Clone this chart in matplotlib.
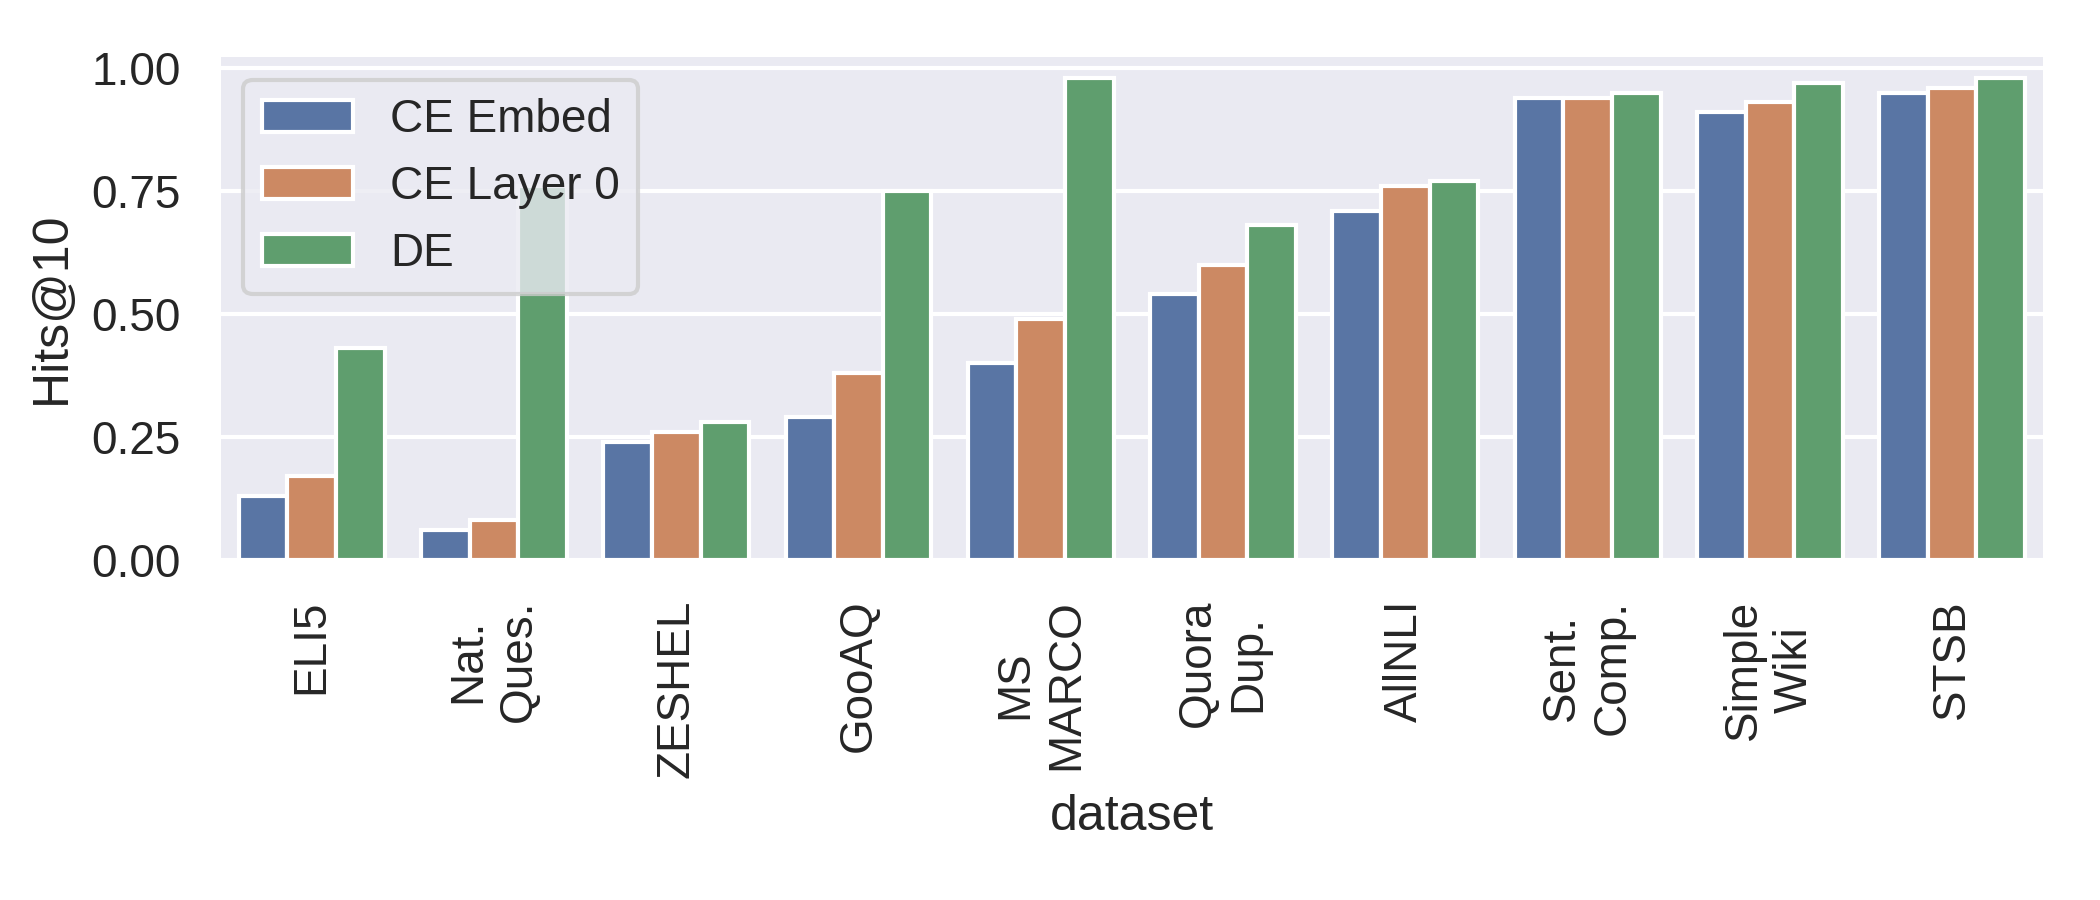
import numpy as np
import matplotlib
matplotlib.use("Agg")
import matplotlib.pyplot as plt
from matplotlib.patches import Patch
import matplotlib.colors as mcolors
import colorsys

categories = ["ELI5", "Nat.\nQues.", "ZESHEL", "GooAQ", "MS\nMARCO",
              "Quora\nDup.", "AllNLI", "Sent.\nComp.", "Simple\nWiki", "STSB"]
series_names = ["CE Embed", "CE Layer 0", "DE"]
ce_embed = [0.13, 0.06, 0.24, 0.29, 0.40, 0.54, 0.71, 0.94, 0.91, 0.95]
ce_layer0 = [0.17, 0.08, 0.26, 0.38, 0.49, 0.60, 0.76, 0.94, 0.93, 0.96]
de = [0.43, 0.76, 0.28, 0.75, 0.98, 0.68, 0.77, 0.95, 0.97, 0.98]
yticks = [0.0, 0.25, 0.50, 0.75, 1.00]
base_colors = ["#4C72B0", "#DD8452", "#55A868"]


def desaturate(c, prop=0.75):
    r, g, b = mcolors.to_rgb(c)
    h, l, s = colorsys.rgb_to_hls(r, g, b)
    return colorsys.hls_to_rgb(h, l, s * prop)


colors = [desaturate(c) for c in base_colors]

plt.rcParams.update({
    "font.family": ["Liberation Sans", "DejaVu Sans"],
    "axes.facecolor": "#EAEAF2",
    "axes.edgecolor": "white",
    "axes.grid": True,
    "axes.axisbelow": True,
    "grid.color": "white",
    "grid.linewidth": 1.0,
    "text.color": ".15",
    "axes.labelcolor": ".15",
    "xtick.color": ".15",
    "ytick.color": ".15",
    "xtick.labelsize": 11,
    "ytick.labelsize": 11,
    "axes.labelsize": 12,
    "legend.fontsize": 11,
})

fig, ax = plt.subplots(figsize=(7, 3), dpi=300)
fig.subplots_adjust(left=0.105, right=0.973, top=0.937, bottom=0.378)

for s in ax.spines.values():
    s.set_visible(False)

data = [ce_embed, ce_layer0, de]
n = len(data)
width = 0.8 / n
x = np.arange(len(categories))
for i, (vals, name, col) in enumerate(zip(data, series_names, colors)):
    offs = -0.4 + width * (i + 0.5)
    ax.bar(x + offs, vals, width=width, color=col, edgecolor="white",
           linewidth=1.0, label=name)

ax.set_xlim(-0.5, len(categories) - 0.5)
ax.set_ylim(0, 1.023)
ax.xaxis.grid(False)
ax.set_xticks(x)
ax.set_xticklabels(categories, rotation=90)
ax.set_yticks(yticks)
ax.set_yticklabels([f"{v:.2f}" for v in yticks])
ax.tick_params(axis="both", length=0, pad=9.5)
ax.set_xlabel("dataset")
ax.set_ylabel("Hits@10")

handles = [Patch(facecolor=c, edgecolor="white", linewidth=1.0) for c in colors]
leg = ax.legend(handles, series_names, loc="upper left", framealpha=0.8,
                edgecolor="0.8", facecolor="#EAEAF2")

fig.savefig("out.png", dpi=300)
